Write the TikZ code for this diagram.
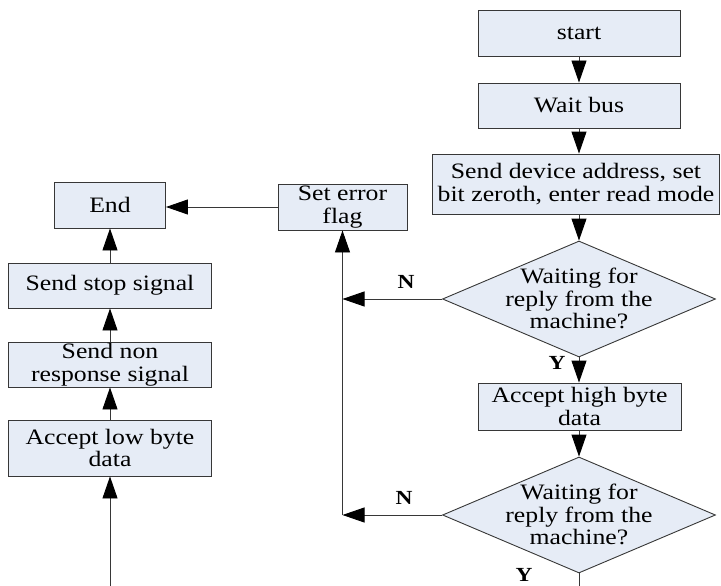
\documentclass[tikz,border=0pt]{standalone}
\usepackage{fontspec}
\setmainfont{Liberation Serif}[FakeStretch=1.17]
\usetikzlibrary{arrows.meta,shapes.geometric}
\definecolor{boxfill}{RGB}{230,236,246}
\definecolor{edgecol}{RGB}{55,55,55}
\newcommand{\dtext}[1]{\smash{\makebox[0pt]{\raisebox{-8pt}{\begin{tabular}{@{}c@{}}#1\end{tabular}}}}}
\begin{document}
\begin{tikzpicture}[x=1pt,y=-1pt,
  font=\fontsize{22}{22.5}\selectfont,
  box/.style={rectangle, draw=edgecol, fill=boxfill, line width=0.9pt, inner sep=0pt, align=center},
  decision/.style={diamond, draw=edgecol, fill=boxfill, line width=0.9pt, inner sep=0pt,
                   minimum width=273pt, minimum height=116pt},
  arr/.style={draw=edgecol, line width=0.9pt, -{Triangle[length=22pt,width=15pt,color=black]}},
  plain/.style={draw=edgecol, line width=0.9pt},
  yn/.style={font=\fontsize{20}{22}\selectfont\bfseries, inner sep=0pt}]
\useasboundingbox (0,0) rectangle (721,586);

% right column
\node[box, minimum width=202pt, minimum height=46pt] (start) at (579,33) {start};
\node[box, minimum width=202pt, minimum height=45pt] (wait) at (579,105.5) {Wait bus};
\node[box, minimum width=287pt, minimum height=60pt] (send) at (576,184) {Send device address, set\\bit zeroth, enter read mode};
\node[decision] (d1) at (579,299) {\dtext{Waiting for\\reply from the\\machine?}};
\node[box, minimum width=203pt, minimum height=47pt] (acch) at (579.5,406.5) {Accept high byte\\data};
\node[decision] (d2) at (579,515) {\dtext{Waiting for\\reply from the\\machine?}};

% middle
\node[box, minimum width=129pt, minimum height=46pt] (err) at (342.5,207) {Set error\\flag};

% left column
\node[box, minimum width=111pt, minimum height=46pt] (end) at (110,205) {End};
\node[box, minimum width=203pt, minimum height=45pt] (stop) at (110,285.5) {Send stop signal};
\node[box, minimum width=203pt, minimum height=45pt] (nonr) at (110,364.5) {Send non\\response signal};
\node[box, minimum width=203pt, minimum height=56pt] (low) at (110,448) {Accept low byte\\data};

% labels
\node[yn] (n1) at (406,282) {N};
\node[yn] (y1) at (557,363) {Y};
\node[yn] (n2) at (404,498) {N};
\node[yn] (y2) at (524,575) {Y};

% helper coordinates
\coordinate (j1) at (err.south |- d1.west);
\coordinate (j2) at (err.south |- d2.west);
\coordinate (bl) at (110,586);
\coordinate (br) at (579,586);

% connectors
\draw[arr] (start.south) -- (start.south |- wait.north);
\draw[arr] (wait.south) -- (wait.south |- send.north);
\draw[arr] (send.south -| d1.north) -- (d1.north);
\draw[arr] (d1.south) -- (d1.south |- acch.north);
\draw[arr] (acch.south -| d2.north) -- (d2.north);
\draw[plain] (d2.south) -- (br);
\draw[arr] (d1.west) -- (j1);
\draw[arr] (d2.west) -- (j2);
\draw[arr] (j2) -- (err.south);
\draw[arr] (err.west) -- (err.west -| end.east);
\draw[arr] (stop.north) -- (end.south);
\draw[arr] (nonr.north) -- (stop.south);
\draw[arr] (low.north) -- (nonr.south);
\draw[arr] (bl) -- (low.south);
\end{tikzpicture}
\end{document}
